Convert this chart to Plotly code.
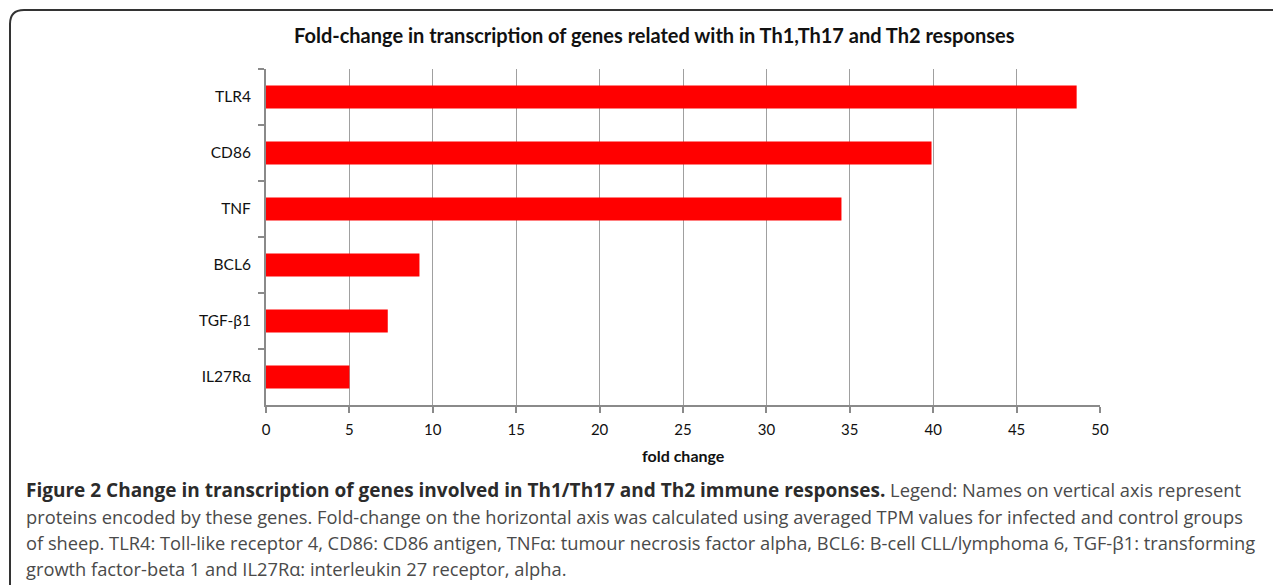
import plotly.graph_objects as go

genes = ["TLR4", "CD86", "TNF", "BCL6", "TGF-β1", "IL27Rα"]
fold_change = [48.6, 39.9, 34.5, 9.2, 7.3, 5.0]
x_ticks = [0, 5, 10, 15, 20, 25, 30, 35, 40, 45, 50]

title_text = "Fold-change in transcription of genes related with in Th1,Th17 and Th2 responses"
x_title = "fold change"
caption_bold = "Figure 2 Change in transcription of genes involved in Th1/Th17 and Th2 immune responses."
caption_lines = [
    " Legend: Names on vertical axis represent",
    "proteins encoded by these genes. Fold-change on the horizontal axis was calculated using averaged TPM values for infected and control groups",
    "of sheep. TLR4: Toll-like receptor 4, CD86: CD86 antigen, TNFα: tumour necrosis factor alpha, BCL6: B-cell CLL/lymphoma 6, TGF-β1: transforming",
    "growth factor-beta 1 and IL27Rα: interleukin 27 receptor, alpha.",
]

# page body has an 8px default margin; shift everything to compensate
OFF = 8
W, H = 1281 - OFF, 585 - OFF
L, R, T, B = 266 - OFF, 1100 - OFF, 69 - OFF, 405 - OFF

def px(x):
    return (x - OFF - L) / (R - L)

def py(y):
    return (B - (y - OFF)) / (B - T)

fig = go.Figure(go.Bar(
    x=fold_change, y=genes, orientation="h",
    marker=dict(color="#ff0000", line=dict(width=0)),
    width=0.41,
))

chart_font = "Lato, Open Sans, sans-serif"

fig.update_layout(
    width=W, height=H,
    margin=dict(l=L, r=W - R, t=T, b=H - B),
    plot_bgcolor="white", paper_bgcolor="white",
    showlegend=False,
    font=dict(family=chart_font, size=15, color="#111"),
    xaxis=dict(
        range=[0, 50], tickvals=x_ticks, ticktext=[str(v) for v in x_ticks],
        showgrid=True, gridcolor="#a0a0a0", gridwidth=1,
        showline=True, linecolor="#8a8a8a", linewidth=2,
        ticks="outside", ticklen=6, tickcolor="#8a8a8a", tickwidth=1.5,
        zeroline=False, fixedrange=True, ticklabelstandoff=4,
        tickfont=dict(size=15, family=chart_font, color="#111"),
    ),
    yaxis=dict(
        type="category", autorange="reversed",
        showgrid=False, showline=True, linecolor="#8a8a8a", linewidth=2,
        ticks="outside", ticklen=6, tickcolor="#8a8a8a", tickwidth=1.5,
        tickson="boundaries", ticklabelstandoff=10,
        tickfont=dict(size=15.5, family=chart_font, color="#111"),
    ),
)

annotations = [
    dict(text="<b>" + title_text + "</b>", xref="paper", yref="paper",
         x=px(654), y=py(35), xanchor="center", yanchor="middle",
         showarrow=False, font=dict(size=20, family=chart_font, color="#111")),
    dict(text="<b>" + x_title + "</b>", xref="paper", yref="paper",
         x=px(683), y=py(455), xanchor="center", yanchor="middle",
         showarrow=False, font=dict(size=16, family=chart_font, color="#111")),
]
for i, line in enumerate(caption_lines):
    text = line
    if i == 0:
        text = ("<span style='font-size:19px;color:#2b2b2b'><b>" + caption_bold +
                "</b></span>" + line)
    annotations.append(dict(
        text=text, xref="paper", yref="paper",
        x=px(24), y=py(490 + 26 * i), xanchor="left", yanchor="middle",
        showarrow=False, align="left",
        font=dict(size=18.3, family="Open Sans, sans-serif", color="#4a4a4a"),
    ))
fig.update_layout(annotations=annotations)

# rounded border around the figure (top-left corner visible)
r = 14
x0, y0 = 10, 10
path = (f"M {px(x0)},{py(H + 60)} L {px(x0)},{py(y0 + r)} "
        f"Q {px(x0)},{py(y0)} {px(x0 + r)},{py(y0)} L {px(W + 60)},{py(y0)}")
fig.add_shape(type="path", path=path, xref="paper", yref="paper",
              line=dict(color="#333333", width=2))

fig.write_html("out.html")
